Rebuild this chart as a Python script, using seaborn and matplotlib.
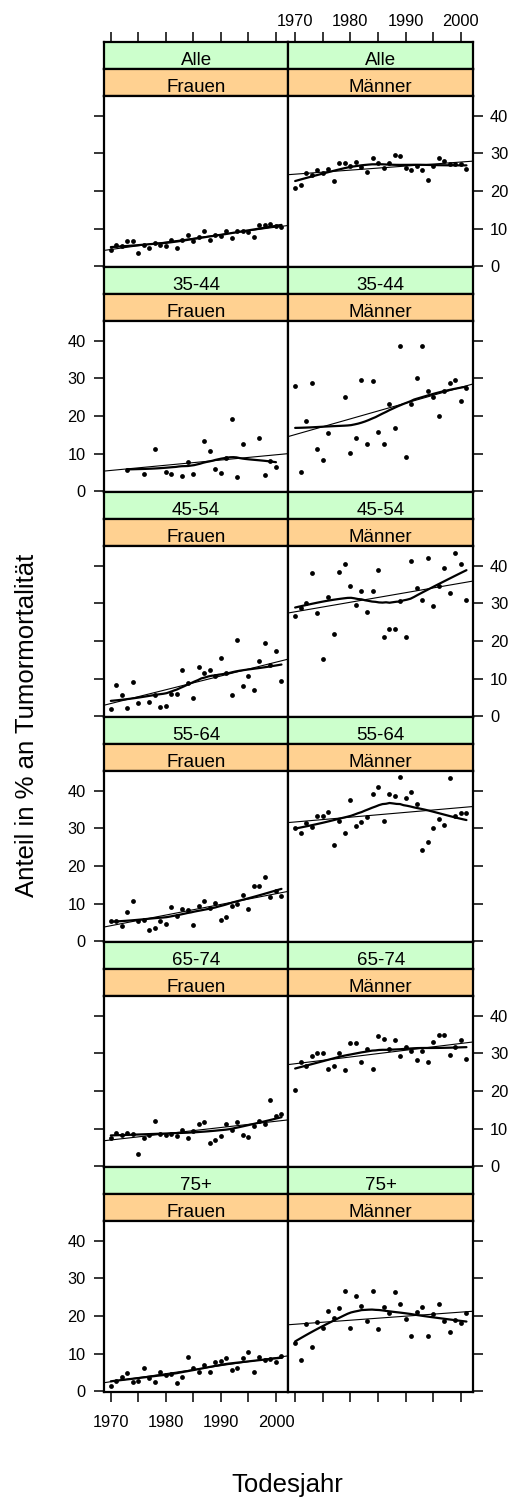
import numpy as np
import pandas as pd
import matplotlib
matplotlib.use("Agg")
import matplotlib.pyplot as plt
import seaborn as sns

# ---------------- data ----------------
nan = np.nan
years = list(range(1970, 2002))
age_groups = ["Alle", "35-44", "45-54", "55-64", "65-74", "75+"]
sexes = ["Frauen", "Männer"]

frauen_alle = [4.4, 5.7, 5.3, 6.7, 6.8, 3.5, 5.7, 4.9, 6.2, 5.7, 5.3, 6.9, 4.9, 7.0, 8.4, 6.6,
               7.8, 9.5, 7.0, 8.2, 8.1, 9.4, 7.4, 9.3, 9.5, 9.1, 7.9, 11.0, 11.0, 11.2, 10.6, 10.5]
maenner_alle = [20.8, 21.7, 24.7, 24.3, 25.5, 24.7, 25.9, 22.6, 27.4, 27.4, 26.8, 27.8, 26.4, 25.0, 28.8, 27.4,
                26.2, 27.6, 29.6, 29.2, 26.2, 25.5, 26.6, 25.7, 22.9, 26.6, 28.8, 27.9, 27.3, 27.1, 27.1, 25.9]
frauen_3544 = [nan, nan, nan, 5.7, nan, nan, 4.7, nan, 11.2, nan, 5.1, 4.7, nan, 4.0, 7.9, 4.7,
               nan, 13.5, 10.6, 5.8, 4.9, 8.9, 19.2, 3.8, 12.7, nan, nan, 14.3, 4.4, 8.1, 6.4, nan]
maenner_3544 = [27.9, 5.2, 18.8, 28.8, 11.2, 8.4, 15.5, nan, nan, 25.1, 10.1, 14.3, 29.5, 12.7, 29.3, 15.9,
                12.7, 23.2, 16.9, 38.6, 9.2, 23.3, 30.1, 38.6, 26.8, 25.1, 20.1, 26.8, 28.7, 29.5, 24.0, 27.4]
frauen_4554 = [2.0, 8.3, 5.7, 2.1, 9.2, 3.6, nan, 3.8, 5.7, 2.6, 2.7, 6.0, 5.8, 12.4, 8.8, 5.0,
               13.2, 11.6, 12.4, 10.6, 15.4, 11.6, 5.7, 20.4, 8.1, 10.6, 7.1, 14.7, 19.6, 13.6, 17.3, 9.3]
maenner_4554 = [26.6, 28.8, 30.2, 38.0, 27.6, 15.2, 31.6, 21.9, 38.4, 40.5, 34.7, 29.7, 33.4, 27.8, 33.4, 39.0,
                21.1, 23.3, 23.3, 30.7, 21.1, 41.2, 34.0, 30.8, 42.0, 29.2, 34.6, 39.5, 32.8, 43.4, 40.5, 31.0]
frauen_5564 = [5.4, 5.4, 4.2, 7.9, 10.7, 5.4, 5.7, 2.9, 3.6, 5.4, 4.5, 9.2, 6.8, 8.5, 8.2, 4.4,
               9.4, 10.7, 8.8, 10.3, 5.7, 6.4, 9.5, 9.8, 12.4, 8.5, 14.6, 14.8, 17.0, 11.7, 13.4, 12.1]
maenner_5564 = [30.2, 28.7, 31.4, 30.5, 33.3, 33.3, 34.4, 25.6, 32.0, 28.7, 37.6, 30.6, 31.8, 33.0, 39.3, 41.1,
                31.9, 39.3, 38.7, 43.6, 38.0, 39.6, 36.6, 24.4, 26.5, 30.2, 32.5, 31.0, 43.4, 33.4, 34.1, 34.0]
frauen_6574 = [7.6, 8.8, 8.2, 8.9, 8.6, 3.4, 7.6, 8.4, 12.1, 8.7, 8.3, 8.7, 8.0, 9.7, 7.6, 9.3,
               11.3, 11.9, 6.3, 7.0, 8.0, 11.3, 9.6, 11.9, 8.4, 7.8, 10.6, 12.0, 11.3, 17.5, 13.5, 14.0]
maenner_6574 = [20.4, 27.8, 26.7, 29.3, 30.0, 30.2, 26.0, 26.7, 30.2, 25.6, 32.9, 32.8, 27.8, 31.1, 25.8, 34.7,
                33.8, 31.3, 33.7, 29.4, 31.7, 30.7, 28.3, 30.7, 27.7, 33.1, 35.0, 34.8, 29.7, 31.8, 33.7, 28.5]
frauen_75 = [1.5, 2.7, 3.8, 4.8, 2.6, 2.8, 6.3, 3.6, 2.4, 5.2, 4.3, 4.7, 2.1, 3.8, 9.1, 6.1,
             5.2, 6.9, 5.2, 7.8, 8.1, 8.8, 5.6, 6.3, 8.9, 10.5, 5.2, 9.1, 8.4, 8.7, 7.8, 9.3]
maenner_75 = [12.8, 8.4, 18.0, 11.8, 18.3, 16.9, 21.3, 19.4, 22.1, 26.8, 16.8, 25.4, 22.8, 18.6, 26.8, 16.6,
              22.3, 20.9, 26.3, 23.2, 19.2, 14.7, 21.2, 22.3, 14.7, 20.6, 23.3, 18.8, 15.8, 19.0, 18.1, 20.7]

x_ticks = [1970, 1975, 1980, 1985, 1990, 1995, 2000]
x_tick_labels = ["1970", "", "1980", "", "1990", "", "2000"]
y_ticks = [0, 10, 20, 30, 40]
y_tick_labels = ["0", "10", "20", "30", "40"]

series = {
    ("Alle", "Frauen"): frauen_alle, ("Alle", "Männer"): maenner_alle,
    ("35-44", "Frauen"): frauen_3544, ("35-44", "Männer"): maenner_3544,
    ("45-54", "Frauen"): frauen_4554, ("45-54", "Männer"): maenner_4554,
    ("55-64", "Frauen"): frauen_5564, ("55-64", "Männer"): maenner_5564,
    ("65-74", "Frauen"): frauen_6574, ("65-74", "Männer"): maenner_6574,
    ("75+", "Frauen"): frauen_75, ("75+", "Männer"): maenner_75,
}
records = []
for (age, sex), vals in series.items():
    for yr, v in zip(years, vals):
        records.append({"Altersgruppe": age, "Geschlecht": sex, "Todesjahr": yr, "Anteil": v})
df = pd.DataFrame(records).dropna()

# lattice-like limits (4 % extension)
xr = df["Todesjahr"].max() - df["Todesjahr"].min()
xlim = (df["Todesjahr"].min() - 0.04 * xr, df["Todesjahr"].max() + 0.04 * xr)
yr_ = df["Anteil"].max() - df["Anteil"].min()
ylim = (df["Anteil"].min() - 0.04 * yr_, df["Anteil"].max() + 0.04 * yr_)


def loess_fit(x, y, span=2 / 3, iterations=4, n_eval=50):
    x = np.asarray(x, float)
    y = np.asarray(y, float)
    n = len(x)
    q = max(int(np.floor(n * span)), 2)
    rw = np.ones(n)

    def fit_at(x0, rw):
        d = np.abs(x - x0)
        h = np.sort(d)[q - 1] * 1.0001
        w = np.clip(1 - (d / h) ** 3, 0, None) ** 3 * rw
        X = np.column_stack([np.ones(n), x - x0])
        sw = np.sqrt(w)
        beta = np.linalg.lstsq(X * sw[:, None], y * sw, rcond=None)[0]
        return beta[0]

    for it in range(iterations - 1):
        fitted = np.array([fit_at(xi, rw) for xi in x])
        r = y - fitted
        s = np.median(np.abs(r))
        u = r / (6 * s)
        rw = np.clip(1 - u ** 2, 0, None) ** 2
    xs = np.linspace(x.min(), x.max(), n_eval)
    ys = np.array([fit_at(x0, rw) for x0 in xs])
    return xs, ys


# ---------------- layout ----------------
sns.set_style("white")
plt.rcParams["font.family"] = ["Liberation Sans", "DejaVu Sans"]
plt.rcParams["text.color"] = "black"
plt.rcParams["xtick.color"] = "black"
plt.rcParams["ytick.color"] = "black"
plt.rcParams["xtick.labelcolor"] = "black"
plt.rcParams["ytick.labelcolor"] = "black"
plt.rcParams["axes.edgecolor"] = "black"

W, H = 512, 1499
fig = plt.figure(figsize=(W / 100, H / 100), dpi=100)

col_x = [(104.0, 288.3), (288.3, 473.3)]
block_top0, block_h, strip_h, panel_h = 42.0, 225.0, 27.0, 171.0
green = "#CCFFCC"
orange = "#FFD191"
frame_lw = 1.6
tick_len = 7.2
tick_w = 1.1
tick_fs = 11.8
strip_fs = 13.5


def fax(x0, x1, ytop, ybot):
    return fig.add_axes([x0 / W, 1 - ybot / H, (x1 - x0) / W, (ybot - ytop) / H])


for r, age in enumerate(age_groups):
    top = block_top0 + r * block_h
    for c, sex in enumerate(sexes):
        x0, x1 = col_x[c]
        # strips
        for k, (label, colr) in enumerate([(age, green), (sex, orange)]):
            sax = fax(x0, x1, top + k * strip_h, top + (k + 1) * strip_h)
            sax.set_facecolor(colr)
            sax.set_xlim(xlim)
            sax.set_ylim(0, 1)
            sax.set_yticks([])
            for sp in sax.spines.values():
                sp.set_linewidth(frame_lw)
                sp.set_color("black")
            sax.text(0.5, 4.0 / strip_h, label, transform=sax.transAxes, ha="center",
                     va="baseline", fontsize=strip_fs, color="black")
            if r == 0 and k == 0:
                sax.set_xticks(x_ticks)
                sax.xaxis.set_ticks_position("top")
                sax.tick_params(axis="x", which="both", top=True, bottom=False, direction="out",
                                length=tick_len, width=tick_w, pad=1.9, labelsize=tick_fs,
                                labeltop=(c == 1), labelbottom=False, colors="black")
                sax.set_xticklabels(x_tick_labels if c == 1 else [""] * len(x_ticks))
            else:
                sax.set_xticks([])

        # panel
        ax = fax(x0, x1, top + 2 * strip_h, top + 2 * strip_h + panel_h)
        ax.set_facecolor("white")
        sub = df[(df["Altersgruppe"] == age) & (df["Geschlecht"] == sex)]
        ax.set_xlim(xlim)
        ax.set_ylim(ylim)
        sns.scatterplot(data=sub, x="Todesjahr", y="Anteil", ax=ax, color="black",
                        s=12, linewidth=0, legend=False, zorder=3)
        sns.regplot(data=sub, x="Todesjahr", y="Anteil", ax=ax, scatter=False, ci=None,
                    truncate=False, line_kws=dict(color="black", lw=0.8))
        lx, ly = loess_fit(sub["Todesjahr"], sub["Anteil"])
        sns.lineplot(x=lx, y=ly, ax=ax, color="black", lw=1.6, estimator=None, sort=False)
        ax.set_xlim(xlim)
        ax.set_ylim(ylim)
        ax.set_xlabel("")
        ax.set_ylabel("")
        for sp in ax.spines.values():
            sp.set_linewidth(frame_lw)
            sp.set_color("black")

        # y axis (alternating labels)
        ax.set_yticks(y_ticks)
        label_right = (r % 2 == 0)
        if c == 0:
            ax.tick_params(axis="y", left=True, right=False, direction="out", length=tick_len,
                           width=tick_w, labelleft=not label_right, labelright=False,
                           labelsize=tick_fs, pad=6, colors="black")
        else:
            ax.yaxis.set_ticks_position("right")
            ax.tick_params(axis="y", left=False, right=True, direction="out", length=tick_len,
                           width=tick_w, labelleft=False, labelright=label_right,
                           labelsize=tick_fs, pad=4.8, colors="black")
        ax.set_yticklabels(y_tick_labels)

        # x axis only at bottom row
        if r == len(age_groups) - 1:
            ax.set_xticks(x_ticks)
            ax.set_xticklabels(x_tick_labels if c == 0 else [""] * len(x_ticks))
            ax.tick_params(axis="x", bottom=True, top=False, direction="out", length=tick_len,
                           width=tick_w, labelbottom=(c == 0), labelsize=tick_fs, pad=9.5,
                           colors="black")
        else:
            ax.set_xticks([])

fig.text(26.8 / W, 1 - 725 / H, "Anteil in % an Tumormortalität", rotation=90,
         ha="center", va="center", fontsize=18.5, color="black")
fig.text(287.5 / W, 1 - 1492 / H, "Todesjahr", ha="center", va="baseline", fontsize=18.5,
         color="black")

fig.savefig("out.png", dpi=100)
